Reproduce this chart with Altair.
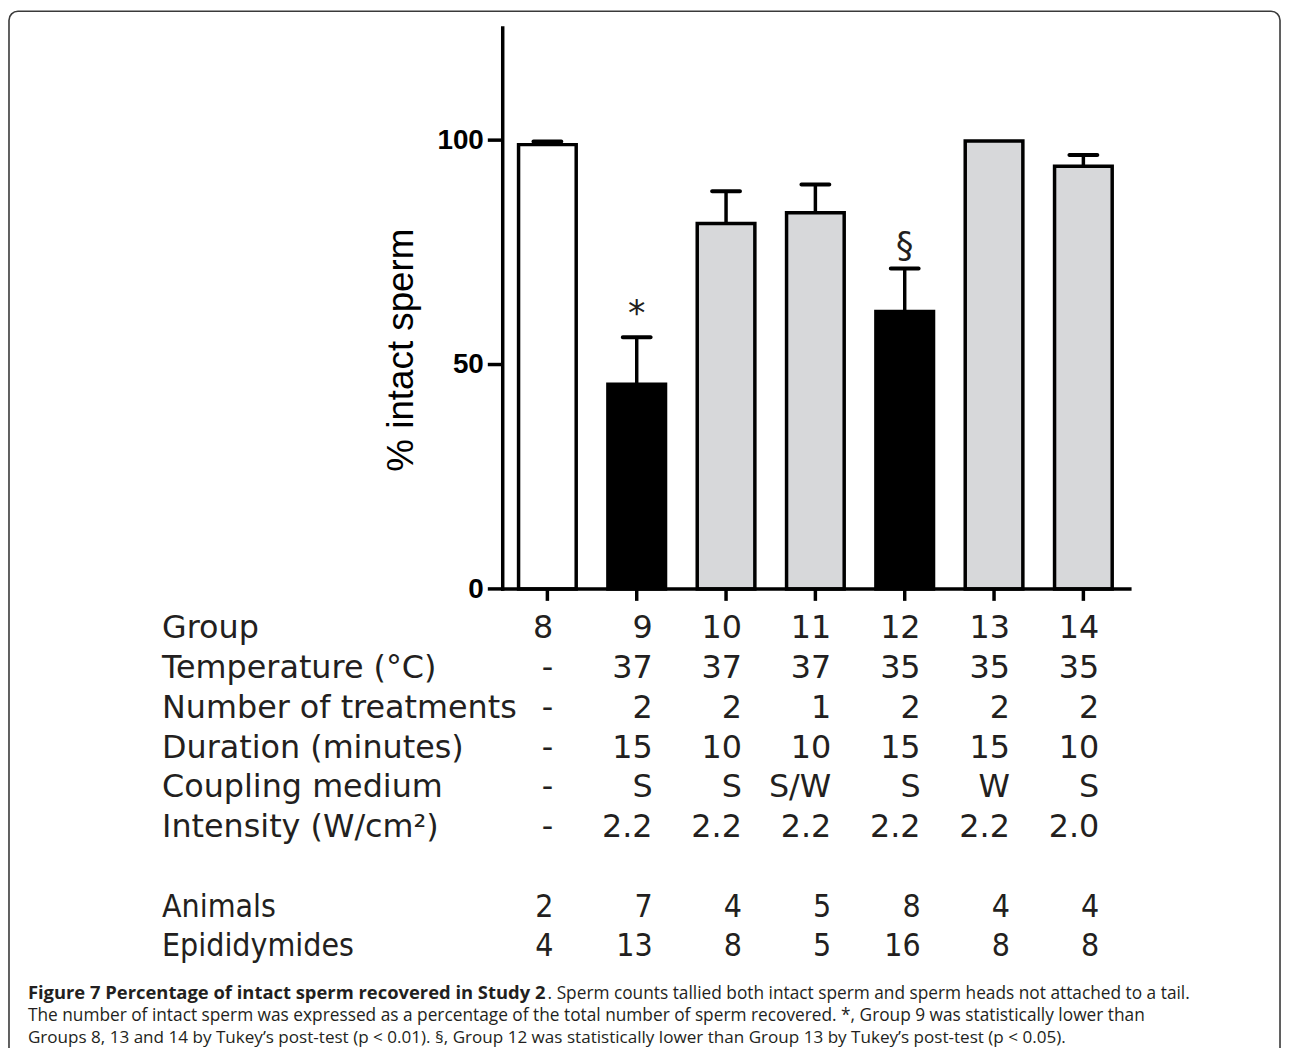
import altair as alt
import pandas as pd

# ---------------- data ----------------
groups = ["8", "9", "10", "11", "12", "13", "14"]
pct_intact = [99.0, 45.6, 81.4, 83.8, 61.8, 99.8, 94.2]
sem_upper = [99.7, 56.1, 88.6, 90.1, 71.4, None, 96.7]
bar_shade = ["control", "low", "treated", "treated", "low", "treated", "treated"]
sig_marks = ["", "*", "", "", "§", "", ""]
y_ticks = [0, 50, 100]

temperature = ["-", "37", "37", "37", "35", "35", "35"]
n_treatments = ["-", "2", "2", "1", "2", "2", "2"]
duration = ["-", "15", "10", "10", "15", "15", "10"]
coupling = ["-", "S", "S", "S/W", "S", "W", "S"]
intensity = ["-", "2.2", "2.2", "2.2", "2.2", "2.2", "2.0"]
animals = ["2", "7", "4", "5", "8", "4", "4"]
epididymides = ["4", "13", "8", "5", "16", "8", "8"]

main_rows = [
    ("Group", groups),
    ("Temperature (°C)", temperature),
    ("Number of treatments", n_treatments),
    ("Duration (minutes)", duration),
    ("Coupling medium", coupling),
    ("Intensity (W/cm²)", intensity),
]
count_rows = [("Animals", animals), ("Epididymides", epididymides)]

y_title = "% intact sperm"
caption_bold = "Figure 7 Percentage of intact sperm recovered in Study 2"
caption_l1 = ". Sperm counts tallied both intact sperm and sperm heads not attached to a tail."
caption_l2 = ("The number of intact sperm was expressed as a percentage of the total number of "
              "sperm recovered. *, Group 9 was statistically lower than")
caption_l3 = ("Groups 8, 13 and 14 by Tukey’s post-test (p < 0.01). §, Group 12 was statistically "
              "lower than Group 13 by Tukey’s post-test (p < 0.05).")

# ---------------- tables ----------------
bars_df = pd.DataFrame({
    "idx": list(range(len(groups))),
    "group": groups,
    "value": pct_intact,
    "upper": sem_upper,
    "shade": bar_shade,
    "sig": sig_marks,
})
ticks_df = pd.DataFrame({"tick": y_ticks})

tbl = []
lab = []
for kind, rows in (("main", main_rows), ("count", count_rows)):
    for name, vals in rows:
        lab.append({"row": name, "kind": kind})
        for i, v in enumerate(vals):
            tbl.append({"row": name, "kind": kind, "idx": i, "txt": v})
tbl_df = pd.DataFrame(tbl)
lab_df = pd.DataFrame(lab)
row_order = [r for r, _ in main_rows] + [" "] + [r for r, _ in count_rows]
dummy = pd.DataFrame({"k": [0]})

# ---------------- layout ----------------
W, H = 1282, 1040
X = alt.Scale(domain=[-5.9823, 8.1678], nice=False, zero=False)
Y = alt.Scale(domain=[-101.57, 128.72], nice=False, zero=False)
TY = alt.Scale(type="point", domain=row_order, range=[631, 951], padding=0)
INK = "#231f20"

xq = alt.X("idx:Q", scale=X, axis=None)
x_axis_pos = alt.XDatum(-0.5, scale=X, axis=None, type="quantitative")
y_zero = alt.YDatum(0, scale=Y, axis=None, type="quantitative")

frame = alt.Chart(dummy).mark_rect(fill="white", fillOpacity=0, stroke="#3a3a3a",
                                   strokeWidth=1.6, cornerRadius=9).encode(
    x=alt.value(1), x2=alt.value(1280), y=alt.value(0), y2=alt.value(H + 40))

bars = alt.Chart(bars_df).mark_bar(width=58, stroke="black", strokeWidth=3.5).encode(
    x=xq,
    y=alt.Y("value:Q", scale=Y, axis=None),
    y2=alt.Y2Datum(0),
    fill=alt.Fill("shade:N", scale=alt.Scale(domain=["control", "low", "treated"],
                                             range=["white", "black", "#d7d8da"]), legend=None),
)
err = alt.Chart(bars_df).transform_filter("isValid(datum.upper)").mark_rule(
    strokeWidth=3.5, color="black").encode(
    x=xq, y=alt.Y("value:Q", scale=Y, axis=None), y2="upper:Q")
caps = alt.Chart(bars_df).transform_filter("isValid(datum.upper)").mark_tick(
    orient="horizontal", size=32, thickness=4, color="black", opacity=1, cornerRadius=2).encode(
    x=xq, y=alt.Y("upper:Q", scale=Y, axis=None))

# axis lines, ticks and labels
yline = alt.Chart(dummy).mark_rule(strokeWidth=3.5, color="black", strokeCap="square").encode(
    x=x_axis_pos, y=y_zero, y2=alt.Y2Datum(125))
xline = alt.Chart(dummy).mark_rule(strokeWidth=3.5, color="black", strokeCap="square").encode(
    x=x_axis_pos, x2=alt.X2Datum(6.52), y=y_zero)
yticks = alt.Chart(ticks_df).mark_tick(orient="horizontal", size=15, thickness=3.5,
                                       xOffset=-7.5, color="black", opacity=1).encode(
    x=x_axis_pos, y=alt.Y("tick:Q", scale=Y, axis=None))
ylabels = alt.Chart(ticks_df).mark_text(font="Liberation Sans", fontWeight="bold", fontSize=28,
                                        align="right", baseline="middle", dx=-19, dy=1,
                                        color="black").encode(
    x=x_axis_pos, y=alt.Y("tick:Q", scale=Y, axis=None), text="tick:Q")
xticks = alt.Chart(bars_df).mark_tick(orient="vertical", size=12, thickness=3.5, yOffset=6,
                                      color="black", opacity=1).encode(x=xq, y=y_zero)
ytitle = alt.Chart(dummy).mark_text(text=y_title, font="Liberation Sans", fontSize=37,
                                    angle=270, align="center", baseline="middle",
                                    color="black").encode(x=alt.value(397), y=alt.value(341))

sig = alt.Chart(bars_df).transform_filter("datum.sig != ''").mark_text(
    font="DejaVu Sans", fontSize=35, dy=-12, baseline="alphabetic", align="center",
    color=INK).encode(x=xq, y=alt.Y("upper:Q", scale=Y, axis=None), text="sig:N")

bar_group = alt.layer(bars, err, caps, yline, xline, yticks, ylabels, xticks, ytitle, sig)

ty = alt.Y("row:N", scale=TY, axis=None)


def labels(kind, font):
    return alt.Chart(lab_df).transform_filter(f"datum.kind == '{kind}'").mark_text(
        align="left", baseline="alphabetic", font=font, fontSize=32, color=INK).encode(
        x=alt.value(155), y=ty, text="row:N")


def values(kind, font, first):
    cond = "datum.idx == 0" if first else "datum.idx > 0"
    return alt.Chart(tbl_df).transform_filter(f"datum.kind == '{kind}' && {cond}").mark_text(
        align="right", baseline="alphabetic", font=font, fontSize=32, color=INK,
        dx=6 if first else 16).encode(x=xq, y=ty, text="txt:N")


table_group = alt.layer(
    labels("main", "DejaVu Sans"), labels("count", "DejaVu Sans Condensed"),
    values("main", "DejaVu Sans", True), values("main", "DejaVu Sans", False),
    values("count", "DejaVu Sans Condensed", True), values("count", "DejaVu Sans Condensed", False),
)


def cap(text, x, y, size, bold=False):
    return alt.Chart(dummy).mark_text(
        text=text, align="left", baseline="alphabetic", font="Open Sans", fontSize=size,
        fontWeight="bold" if bold else "normal", color=INK).encode(
        x=alt.value(x), y=alt.value(y))


caption = alt.layer(
    cap(caption_bold, 20, 994, 18.5, True),
    cap(caption_l1, 543, 994, 17.4),
    cap(caption_l2, 20, 1016, 17.4),
    cap(caption_l3, 20, 1038, 17.2),
)

chart = alt.layer(frame, bar_group, table_group, caption).resolve_scale(
    y="independent").properties(
    width=W, height=H, padding=0, autosize=alt.AutoSizeParams(type="none"),
    background="white").configure_view(stroke=None)

chart.save("out.html", embed_options={"renderer": "svg", "actions": False})
